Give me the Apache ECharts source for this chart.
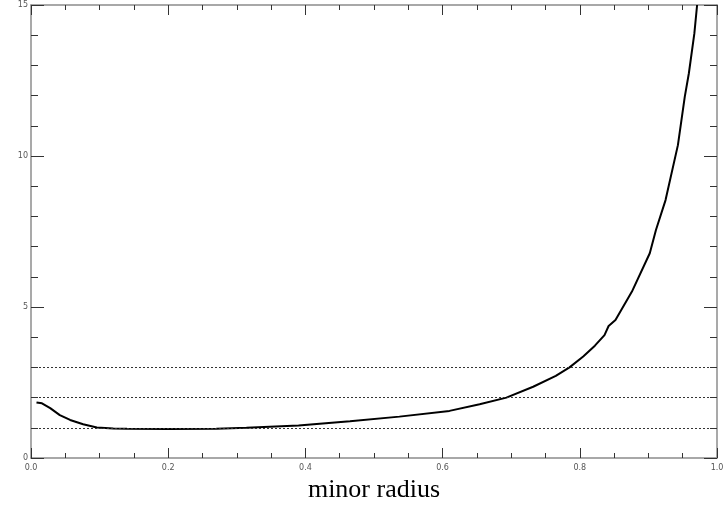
<!DOCTYPE html>
<html>
<head>
<meta charset="utf-8">
<script src="https://cdn.jsdelivr.net/npm/echarts@6/dist/echarts.min.js"></script>
<style>
  html, body { margin: 0; padding: 0; background: #fff; }
  #chart { width: 727px; height: 514px; }
</style>
</head>
<body>
<div id="chart"></div>
<script>
// minor radius vs value
var radius = [0.008, 0.016, 0.028, 0.042, 0.057, 0.076, 0.096, 0.12, 0.14, 0.2, 0.27, 0.314,
  0.39, 0.465, 0.537, 0.61, 0.654, 0.693, 0.732, 0.765, 0.785, 0.805, 0.822, 0.836, 0.842, 0.852,
  0.876, 0.902, 0.911, 0.925, 0.943, 0.953, 0.959, 0.967, 0.971];
var values = [1.84, 1.81, 1.65, 1.42, 1.26, 1.12, 1.01, 0.98, 0.97, 0.96, 0.97, 1.0,
  1.08, 1.22, 1.37, 1.56, 1.78, 2.0, 2.36, 2.72, 3.0, 3.36, 3.72, 4.07, 4.37, 4.57,
  5.51, 6.78, 7.55, 8.54, 10.36, 11.96, 12.74, 14.06, 15.0];
var refLevels = [1, 2, 3];
var xTitle = 'minor radius';

var axisGray = '#8c8c8c';
var tickDark = '#333';

function xAx(pos, showLabel) {
  return {
    type: 'value', position: pos, min: 0, max: 1, interval: 0.2,
    name: showLabel ? xTitle : '',
    nameLocation: 'middle', nameGap: 15,
    nameTextStyle: { fontFamily: 'Liberation Serif', fontSize: 26, color: '#000' },
    axisLine: { show: true, onZero: false, lineStyle: { color: axisGray, width: 1.5 } },
    axisTick: { show: true, inside: true, length: 10, lineStyle: { color: tickDark } },
    minorTick: { show: true, splitNumber: 4, length: 5, lineStyle: { color: tickDark } },
    axisLabel: {
      show: showLabel, color: '#555', fontSize: 8, fontFamily: 'DejaVu Sans', margin: 6,
      formatter: function (v) { return v.toFixed(1); }
    },
    splitLine: { show: false }
  };
}

function yAx(pos, showLabel) {
  return {
    type: 'value', position: pos, min: 0, max: 15, interval: 5,
    axisLine: { show: true, onZero: false, lineStyle: { color: axisGray, width: 1.5 } },
    axisTick: { show: true, inside: true, length: 13, lineStyle: { color: tickDark } },
    minorTick: { show: true, splitNumber: 5, length: 7, lineStyle: { color: tickDark } },
    axisLabel: { show: showLabel, color: '#555', fontSize: 8, fontFamily: 'DejaVu Sans', margin: 3 },
    splitLine: { show: false }
  };
}

var chart = echarts.init(document.getElementById('chart'));
chart.setOption({
  animation: false,
  grid: { left: 31, right: 10, top: 5, bottom: 56 },
  xAxis: [xAx('bottom', true), xAx('top', false)],
  yAxis: [yAx('left', true), yAx('right', false)],
  series: [{
    type: 'line',
    xAxisIndex: 0, yAxisIndex: 0,
    data: radius.map(function (r, i) { return [r, values[i]]; }),
    showSymbol: false,
    smooth: false,
    lineStyle: { color: '#000', width: 2 },
    markLine: {
      silent: true,
      symbol: ['none', 'none'],
      label: { show: false },
      lineStyle: { color: '#333', width: 1, type: [2, 2] },
      data: refLevels.map(function (v) { return { yAxis: v }; })
    }
  }]
});
</script>
</body>
</html>
